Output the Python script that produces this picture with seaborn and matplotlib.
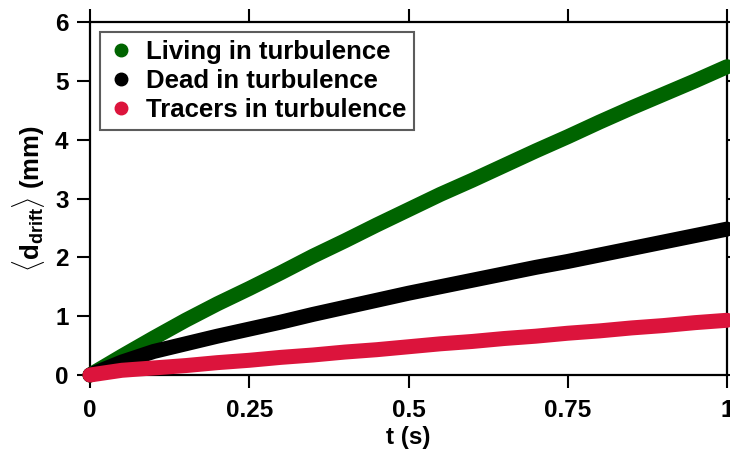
import numpy as np
import pandas as pd
import seaborn as sns
import matplotlib
matplotlib.use("Agg")
import matplotlib.pyplot as plt
from matplotlib.lines import Line2D

# Mean drift distance vs time for each particle type
t = [0.0, 0.05, 0.10, 0.15, 0.20, 0.25, 0.30, 0.35, 0.40, 0.45, 0.50,
     0.55, 0.60, 0.65, 0.70, 0.75, 0.80, 0.85, 0.90, 0.95, 1.00]
living = [0.00, 0.32, 0.63, 0.93, 1.21, 1.47, 1.74, 2.02, 2.28, 2.55, 2.81,
          3.07, 3.31, 3.56, 3.81, 4.05, 4.30, 4.54, 4.77, 5.00, 5.24]
dead = [0.00, 0.22, 0.40, 0.53, 0.66, 0.78, 0.90, 1.03, 1.15, 1.27, 1.39,
        1.50, 1.61, 1.72, 1.83, 1.93, 2.04, 2.15, 2.26, 2.37, 2.48]
tracers = [0.00, 0.08, 0.12, 0.16, 0.21, 0.25, 0.30, 0.34, 0.39, 0.43, 0.48,
           0.53, 0.57, 0.62, 0.66, 0.71, 0.75, 0.80, 0.84, 0.89, 0.93]

series = ["Living in turbulence", "Dead in turbulence", "Tracers in turbulence"]
colors = ["#006400", "#000000", "#DC143C"]
xticks = [0, 0.25, 0.5, 0.75, 1]
xtick_labels = ["0", "0.25", "0.5", "0.75", "1"]
yticks = [0, 1, 2, 3, 4, 5, 6]

df = pd.DataFrame({
    "t": t * 3,
    "d": living + dead + tracers,
    "kind": [s for s in series for _ in t],
})

sns.set_theme(style="white")
plt.rcParams["font.family"] = ["Liberation Sans", "DejaVu Sans"]
plt.rcParams["mathtext.fontset"] = "custom"
plt.rcParams["mathtext.rm"] = "Liberation Sans"
plt.rcParams["mathtext.bf"] = "Liberation Sans:bold"
plt.rcParams["mathtext.it"] = "Liberation Sans:italic"
plt.rcParams["text.color"] = "black"
plt.rcParams["axes.labelcolor"] = "black"
plt.rcParams["xtick.color"] = "black"
plt.rcParams["ytick.color"] = "black"

fig = plt.figure(figsize=(7.3, 4.57), dpi=100)
ax = fig.add_axes([90 / 730, 1 - 375 / 457, 637 / 730, 353 / 457])

sns.lineplot(data=df, x="t", y="d", hue="kind", palette=colors,
             hue_order=series, linewidth=10.8, legend=False, ax=ax,
             solid_capstyle="round", sort=False)
for ln in ax.get_lines():
    ln.set_clip_on(False)
    ln.set_zorder(5)

ax.set_xlim(0, 1)
ax.set_ylim(0, 6)
ax.set_xticks(xticks)
ax.set_xticklabels(xtick_labels)
ax.set_yticks(yticks)

for sp in ax.spines.values():
    sp.set_visible(True)
    sp.set_color("black")
    sp.set_linewidth(1.6)

ax.tick_params(axis="both", which="major", direction="out", length=9.5,
               width=1.5, colors="black", labelsize=17.5, pad=6,
               top=True, right=True, bottom=True, left=True,
               labeltop=False, labelright=False)
ax.tick_params(axis="x", pad=8)
for lab in ax.get_xticklabels() + ax.get_yticklabels():
    lab.set_fontweight("bold")

ax.set_xlabel("t (s)", fontsize=17.5, fontweight="bold", labelpad=3)
ax.set_ylabel(r"$\langle\mathbf{d}_{\mathbf{drift}}\rangle$ (mm)",
              fontsize=18.5, fontweight="bold", labelpad=6)

handles = [Line2D([], [], marker="o", linestyle="", markersize=9,
                  markerfacecolor=c, markeredgecolor=c) for c in colors]
leg = ax.legend(handles, series, loc="upper left",
                bbox_to_anchor=(0.0157, 0.972), borderaxespad=0,
                frameon=True, fancybox=False, edgecolor="#333333",
                prop={"weight": "bold", "size": 18.5},
                handlelength=1.0, handletextpad=0.5, labelspacing=0.2,
                borderpad=0.3)
leg.get_frame().set_linewidth(1.5)
leg.set_zorder(10)

fig.savefig("out.png", dpi=100, facecolor="white")
